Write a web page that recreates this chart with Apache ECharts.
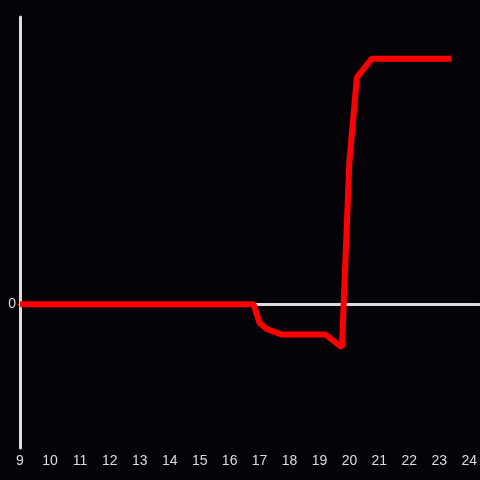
<!DOCTYPE html>
<html>
<head>
<meta charset="utf-8">
<script src="https://cdn.jsdelivr.net/npm/echarts@6/dist/echarts.min.js"></script>
<style>
  html, body { margin: 0; padding: 0; background: #050307; }
  #chart { width: 480px; height: 480px; }
</style>
</head>
<body>
<div id="chart"></div>
<script>
// x positions (hours) and values of the red line
const xValues = [9, 16.8, 17.0, 17.23, 17.73, 19.2, 19.75, 20.0, 20.25, 20.75, 23.4]
const yValues = [0, 0, -0.13, -0.17, -0.21, -0.21, -0.30, 1.0, 1.58, 1.71, 1.71]

const chart = echarts.init(document.getElementById('chart'))

const axisColor = '#dddddd'

const option = {
  backgroundColor: '#050307',
  animation: false,
  grid: {
    left: 20,
    right: 0,
    top: 17,
    bottom: 32
  },
  xAxis: {
    type: 'value',
    min: 9,
    max: 24.333,
    interval: 1,
    axisLine: {
      onZero: true,
      lineStyle: { color: axisColor, width: 3 }
    },
    axisTick: { show: false },
    splitLine: { show: false },
    axisLabel: {
      color: axisColor,
      fontSize: 14,
      fontFamily: 'Liberation Sans',
      margin: 6,
      showMaxLabel: false,
      formatter: (v) => (Number.isInteger(v) ? String(v) : '')
    }
  },
  yAxis: {
    type: 'value',
    min: -1,
    max: 2,
    interval: 1,
    axisLine: {
      show: true,
      lineStyle: { color: axisColor, width: 3 }
    },
    axisTick: { show: false },
    splitLine: { show: false },
    axisLabel: {
      color: axisColor,
      fontSize: 14,
      fontFamily: 'Liberation Sans',
      margin: 4,
      formatter: (v) => (v === 0 ? '0' : '')
    }
  },
  series: [
    {
      type: 'line',
      data: xValues.map((x, i) => [x, yValues[i]]),
      showSymbol: false,
      lineStyle: { color: '#ff0000', width: 6 },
      z: 3
    }
  ]
}

chart.setOption(option)
</script>
</body>
</html>
